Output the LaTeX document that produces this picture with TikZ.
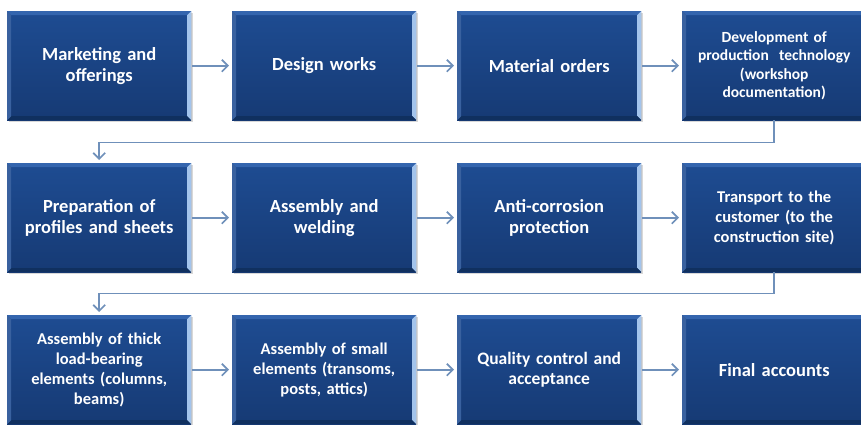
\documentclass[tikz,border=0pt]{standalone}
\usepackage{fontspec}
\setmainfont{Carlito}
\usetikzlibrary{arrows.meta,shadows}
\definecolor{boxtop}{HTML}{1E4C92}
\definecolor{boxbot}{HTML}{163A74}
\definecolor{bevtop}{HTML}{3465AE}
\definecolor{bevright}{HTML}{A3C4EC}
\definecolor{bevbot}{HTML}{10305F}
\definecolor{flow}{HTML}{6F90BA}
\tikzset{
  stage/.style={
    draw=none, anchor=north west, inner sep=2pt,
    minimum width=184pt, minimum height=109pt, text width=180pt,
    align=center, text=white, font=\bfseries\fontsize{18.5}{21}\selectfont,
    top color=boxtop, bottom color=boxbot,
    drop shadow={shadow xshift=1.5pt, shadow yshift=-1.5pt, opacity=0.3},
    path picture={
      \fill[bevtop] (path picture bounding box.north west)
        -- (path picture bounding box.north east)
        -- ([xshift=-4pt,yshift=-4pt]path picture bounding box.north east)
        -- ([xshift=4pt,yshift=-4pt]path picture bounding box.north west) -- cycle;
      \fill[bevright] (path picture bounding box.north east)
        -- (path picture bounding box.south east)
        -- ([xshift=-4pt,yshift=4pt]path picture bounding box.south east)
        -- ([xshift=-4pt,yshift=-4pt]path picture bounding box.north east) -- cycle;
      \fill[bevbot] (path picture bounding box.south west)
        -- (path picture bounding box.south east)
        -- ([xshift=-4pt,yshift=4pt]path picture bounding box.south east)
        -- ([xshift=4pt,yshift=4pt]path picture bounding box.south west) -- cycle;
      \fill[boxtop!88!white] (path picture bounding box.north west)
        -- ([xshift=4pt,yshift=-4pt]path picture bounding box.north west)
        -- ([xshift=4pt,yshift=4pt]path picture bounding box.south west)
        -- (path picture bounding box.south west) -- cycle;
    }},
  small/.style={font=\bfseries\fontsize{15.5}{18.5}\selectfont},
  mid/.style={font=\bfseries\fontsize{16.5}{20}\selectfont},
  flowline/.style={draw=flow, line width=1.7pt,
    -{Straight Barb[length=6pt,width=12pt,line width=1.7pt]}},
}
\begin{document}
\begin{tikzpicture}[x=1pt,y=1pt]
  \useasboundingbox (0,0) rectangle (861,-424);
  \clip (0,0) rectangle (861,-424);
  \fill[white] (0,0) rectangle (861,-424);

  % first row
  \node[stage] (a1) at (7,-11) {Marketing and\\offerings};
  \node[stage] (a2) at (232,-11) {Design works};
  \node[stage] (a3) at (457,-11) {Material orders};
  \node[stage,small] (a4) at (682,-11) {Development of\\production\ \ technology\\(workshop\\documentation)};

  % second row
  \node[stage] (b1) at (7,-163) {Preparation of\\profiles and sheets};
  \node[stage] (b2) at (232,-163) {Assembly and\\welding};
  \node[stage] (b3) at (457,-163) {Anti-corrosion\\protection};
  \node[stage,mid] (b4) at (682,-163) {Transport to the\\customer (to the\\construction site)};

  % third row
  \node[stage,mid] (c1) at (7,-315) {Assembly of thick\\load-bearing\\elements (columns,\\beams)};
  \node[stage,mid] (c2) at (232,-315) {Assembly of small\\elements (transoms,\\posts, attics)};
  \node[stage,font=\bfseries\fontsize{17.5}{20.5}\selectfont] (c3) at (457,-315) {Quality control and\\acceptance};
  \node[stage] (c4) at (682,-315) {Final accounts};

  % connectors within rows
  \foreach \r in {a,b,c}{
    \draw[flowline,shorten <=1pt,shorten >=3pt] (\r1.east) -- (\r2.west);
    \draw[flowline,shorten <=1pt,shorten >=3pt] (\r2.east) -- (\r3.west);
    \draw[flowline,shorten <=1pt,shorten >=3pt] (\r3.east) -- (\r4.west);
  }

  % row-to-row returns
  \draw[flowline,shorten >=3pt] (a4.south) -- ++(0,-22) -| (b1.north);
  \draw[flowline,shorten >=3pt] (b4.south) -- ++(0,-21) -| (c1.north);
\end{tikzpicture}
\end{document}
